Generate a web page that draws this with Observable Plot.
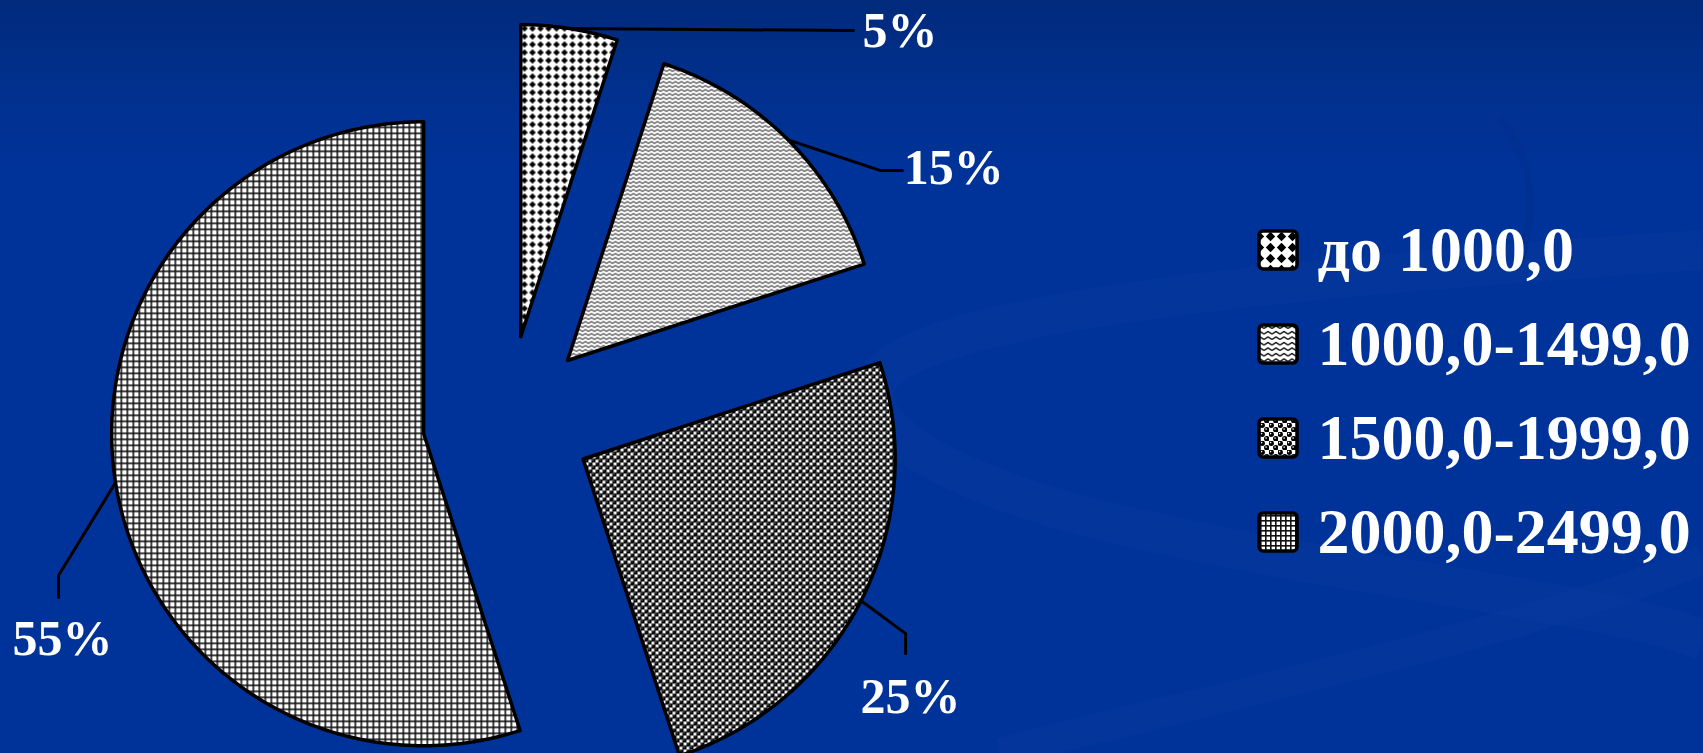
<!DOCTYPE html>
<html>
<head>
<meta charset="utf-8">
<script src="https://cdn.jsdelivr.net/npm/d3@7"></script>
<script src="https://cdn.jsdelivr.net/npm/@observablehq/plot@0.6"></script>
<style>
html, body { margin: 0; padding: 0; overflow: hidden; }
body {
  width: 1703px; height: 753px; position: relative;
  background: linear-gradient(to bottom, #012a7c 0px, #01308e 90px, #003399 170px, #003399 753px);
}
#deco { position: absolute; left: 0; top: 0; }
#chart { position: absolute; left: 0; top: 0; }
#chart svg { display: block; }
</style>
</head>
<body>
<svg id="deco" width="1703" height="753">
  <defs>
    <!-- slice patterns -->
    <pattern id="p0" patternUnits="userSpaceOnUse" width="8" height="8">
      <rect width="8" height="8" fill="#fff"/>
      <path d="M4,0.7L7.3,4L4,7.3L0.7,4Z" fill="#000"/>
    </pattern>
    <pattern id="p1" patternUnits="userSpaceOnUse" width="6" height="4">
      <rect width="6" height="4" fill="#fff"/>
      <path d="M0,3L3,1L6,3" fill="none" stroke="#000" stroke-width="1"/>
    </pattern>
    <pattern id="p2" patternUnits="userSpaceOnUse" width="7" height="7">
      <rect width="7" height="7" fill="#fff"/>
      <circle cx="1.75" cy="1.75" r="2.45" fill="#000"/>
      <circle cx="5.25" cy="5.25" r="2.45" fill="#000"/>
      <circle cx="1.1" cy="1.1" r="0.5" fill="#ddd"/>
      <circle cx="4.6" cy="4.6" r="0.5" fill="#ddd"/>
    </pattern>
    <pattern id="p3" patternUnits="userSpaceOnUse" width="6" height="6">
      <rect width="6" height="6" fill="#fff"/>
      <rect width="6" height="1.6" fill="#111"/>
      <rect width="1.6" height="6" fill="#111"/>
    </pattern>
    <!-- legend key patterns (drawn a little larger) -->
    <pattern id="lg0" patternUnits="userSpaceOnUse" width="11" height="11">
      <rect width="11" height="11" fill="#fff"/>
      <path d="M5.5,0.8L10.2,5.5L5.5,10.2L0.8,5.5Z" fill="#000"/>
    </pattern>
    <pattern id="lg1" patternUnits="userSpaceOnUse" width="8" height="5.5">
      <rect width="8" height="5.5" fill="#fff"/>
      <path d="M0,4L4,1.5L8,4" fill="none" stroke="#000" stroke-width="1.3"/>
    </pattern>
    <pattern id="lg2" patternUnits="userSpaceOnUse" width="9" height="9">
      <rect width="9" height="9" fill="#fff"/>
      <circle cx="2.25" cy="2.25" r="2.7" fill="#000"/>
      <circle cx="6.75" cy="6.75" r="2.7" fill="#000"/>
      <circle cx="1.6" cy="1.6" r="0.8" fill="#fff"/>
      <circle cx="6.1" cy="6.1" r="0.8" fill="#fff"/>
    </pattern>
    <pattern id="lg3" patternUnits="userSpaceOnUse" width="5" height="5">
      <rect width="5" height="5" fill="#fff"/>
      <rect width="5" height="1.6" fill="#111"/>
      <rect width="1.6" height="5" fill="#111"/>
    </pattern>
  </defs>
  <!-- faint template swooshes in the background -->
  <path d="M1703,250 C1400,270 1000,300 900,360 C830,400 900,470 1100,520 C1350,580 1600,600 1703,640"
        fill="none" stroke="#0a3aa0" stroke-width="40" opacity="0.35"/>
  <path d="M1500,118 C1530,160 1540,200 1520,260" fill="none" stroke="#002d8c" stroke-width="8" opacity="0.5"/>
  <path d="M1703,560 C1500,640 1200,700 1000,753" fill="none" stroke="#0a3aa0" stroke-width="30" opacity="0.3"/>
</svg>
<div id="chart"></div>
<script>
// ---- data ----
const categories = ["до 1000,0", "1000,0-1499,0", "1500,0-1999,0", "2000,0-2499,0"];
const shares = [5, 15, 25, 55];
const percentLabels = ["5%", "15%", "25%", "55%"];

// ---- layout (data units: 1 = pie radius, origin = pie centre) ----
const W = 1703, H = 753;
const PX = 312;                 // pixels per radius
const CX = 507, CY = 420;       // pie centre in pixels
const explode = 0.272;
const xDomain = [-CX / PX, (W - CX) / PX];
const yDomain = [-(H - CY) / PX, CY / PX];

const slicePatterns = ["url(#p0)", "url(#p1)", "url(#p2)", "url(#p3)"];
const legendPatterns = ["url(#lg0)", "url(#lg1)", "url(#lg2)", "url(#lg3)"];
const serif = "Liberation Serif, Times New Roman, serif";

const total = d3.sum(shares);
let acc = 0;
const slices = shares.map((v, i) => {
  const a0 = acc / total * 2 * Math.PI;
  acc += v;
  const a1 = acc / total * 2 * Math.PI;
  const mid = (a0 + a1) / 2;
  const ox = explode * Math.sin(mid), oy = explode * Math.cos(mid);
  return {i, cat: categories[i], value: v, a0, a1, mid, ox, oy};
});

// polygon outline of each exploded slice
const slicePoints = [];
for (const s of slices) {
  slicePoints.push({cat: s.cat, i: s.i, x: s.ox, y: s.oy});
  const n = Math.max(8, Math.ceil((s.a1 - s.a0) / (Math.PI / 180)));
  for (let k = 0; k <= n; k++) {
    const a = s.a0 + (s.a1 - s.a0) * k / n;
    slicePoints.push({cat: s.cat, i: s.i, x: s.ox + Math.sin(a), y: s.oy + Math.cos(a)});
  }
}

// leader lines: start on the arc midpoint, then elbow/end points (layout)
const leaderBends = [
  [[1.109, 1.250]],
  [[1.196, 0.801], [1.266, 0.801]],
  [[1.276, -0.683], [1.276, -0.747]],
  [[-1.439, -0.497], [-1.439, -0.567]]
];
const labelPos = [
  {x: 1.138, y: 1.247, anchor: "start"},
  {x: 1.270, y: 0.808, anchor: "start"},
  {x: 1.292, y: -0.885, anchor: "middle"},
  {x: -1.426, y: -0.699, anchor: "middle"}
];
const leaderPoints = [];
slices.forEach((s, i) => {
  leaderPoints.push({i, x: s.ox + Math.sin(s.mid), y: s.oy + Math.cos(s.mid)});
  for (const [x, y] of leaderBends[i]) leaderPoints.push({i, x, y});
});
const pctLabels = slices.map((s, i) => ({text: percentLabels[i], ...labelPos[i]}));

// legend
const legX = (1278 - CX) / PX, legHalf = 19 / PX, legTextX = (1317 - CX) / PX;
const legY0 = (CY - 250) / PX, legStep = 94 / PX;
const legendRows = categories.map((c, i) => ({
  cat: c, i, y: legY0 - i * legStep, fill: legendPatterns[i]
}));

const chart = Plot.plot({
  width: W, height: H,
  margin: 0,
  x: {domain: xDomain, axis: null},
  y: {domain: yDomain, axis: null},
  color: {type: "identity"},
  style: {background: "transparent", overflow: "hidden"},
  marks: [
    Plot.line(slicePoints, {
      x: "x", y: "y", z: "cat",
      fill: d => slicePatterns[d.i],
      stroke: "#000", strokeWidth: 3.5, strokeLinejoin: "round",
      curve: "linear-closed", clip: true
    }),
    Plot.line(leaderPoints, {
      x: "x", y: "y", z: "i",
      stroke: "#000", strokeWidth: 3, strokeLinejoin: "miter"
    }),
    Plot.text(pctLabels.filter(d => d.anchor === "start"), {
      x: "x", y: "y", text: "text", textAnchor: "start",
      fill: "#fff", fontSize: 50, fontWeight: "bold", fontFamily: serif
    }),
    Plot.text(pctLabels.filter(d => d.anchor === "middle"), {
      x: "x", y: "y", text: "text", textAnchor: "middle",
      fill: "#fff", fontSize: 50, fontWeight: "bold", fontFamily: serif
    }),
    Plot.rect(legendRows, {
      x1: () => legX - legHalf, x2: () => legX + legHalf,
      y1: d => d.y - legHalf, y2: d => d.y + legHalf,
      fill: "fill", stroke: "#000", strokeWidth: 3.5, rx: 4
    }),
    Plot.text(legendRows, {
      x: () => legTextX, y: "y", text: "cat", textAnchor: "start",
      fill: "#fff", fontSize: 64, fontWeight: "bold", fontFamily: serif
    })
  ]
});
document.getElementById("chart").appendChild(chart);
</script>
</body>
</html>
